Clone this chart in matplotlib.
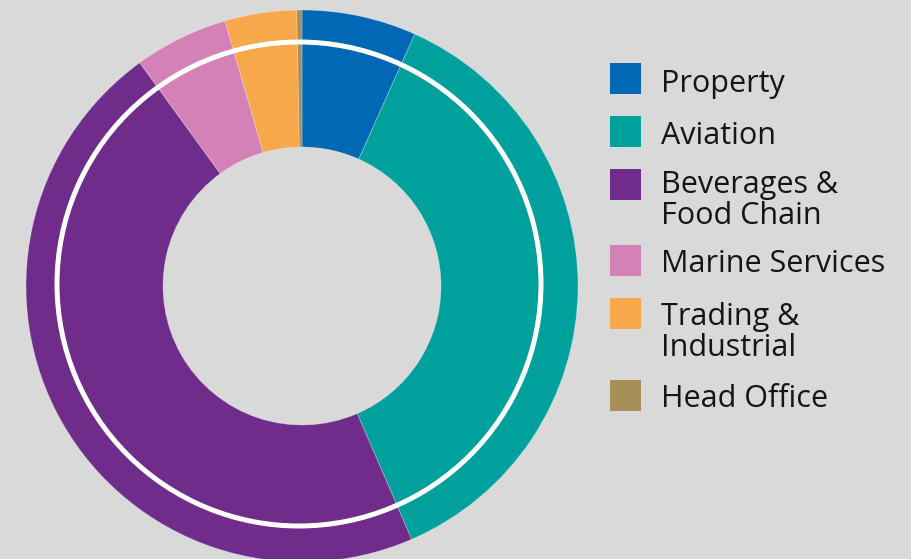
import matplotlib.pyplot as plt
from matplotlib.patches import Rectangle, Circle

# segment shares (percent)
labels = ["Property", "Aviation", "Beverages &\nFood Chain", "Marine Services",
          "Trading &\nIndustrial", "Head Office"]
shares = [6.7, 36.8, 46.5, 5.5, 4.2, 0.3]
colors = ["#0068b5", "#00a19c", "#6f2c8b", "#d481b8", "#f6a84a", "#a69057"]

bg = "#d9d9d9"
W, H = 912, 559

fig = plt.figure(figsize=(W / 100, H / 100), dpi=100, facecolor=bg)
ax = fig.add_axes([0, 0, 1, 1])
ax.set_facecolor(bg)

cx, cy = 302, 286      # donut centre in pixels
r_out, r_in = 276, 139

# y axis gets inverted below, so counterclock=True comes out clockwise on screen
ax.pie(shares, colors=colors, startangle=-90, counterclock=True,
       radius=r_out, center=(cx, cy), frame=True,
       wedgeprops=dict(width=r_out - r_in, edgecolor=(1, 1, 1, 0.3), linewidth=0.6))
ax.set_xlim(0, W)
ax.set_ylim(H, 0)
ax.set_aspect("equal")
ax.axis("off")

# white ring on top (sits a little off the donut centre in the original)
ax.add_patch(Circle((299, 284), 242, fill=False, edgecolor="white", linewidth=3.6, zorder=5))

# legend drawn by hand: square top and first-line baseline (pixels)
tops = [63, 116, 169, 245, 298, 380]
baselines = [92, 144, 193, 272, 325, 407]
for lab, col, t, b in zip(labels, colors, tops, baselines):
    ax.add_patch(Rectangle((610, t), 31, 31, facecolor=col, edgecolor="none"))
    for i, line in enumerate(lab.split("\n")):
        ax.text(661, b + i * 31, line, fontsize=22, family="Open Sans",
                color="#151515", va="baseline", ha="left")

fig.savefig("out.png", dpi=100, facecolor=bg)
